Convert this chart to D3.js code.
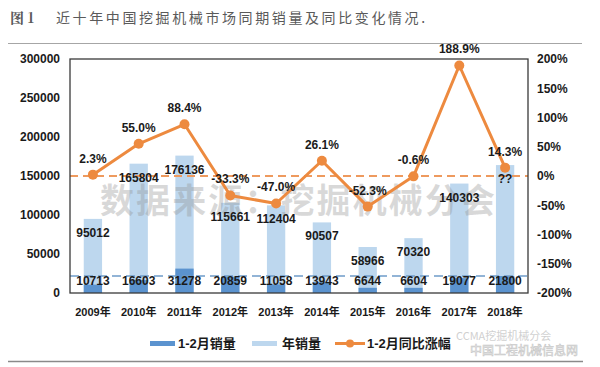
<!DOCTYPE html>
<html><head><meta charset="utf-8">
<script src="https://cdn.jsdelivr.net/npm/d3@7/dist/d3.min.js"></script>
<style>
body{margin:0;background:#fff;}
svg{display:block;}
</style></head>
<body><svg id="c" width="600" height="367"></svg>
<script>
const years = ["2009年","2010年","2011年","2012年","2013年","2014年","2015年","2016年","2017年","2018年"];
const annualSales = [95012,165804,176136,115661,112404,90507,58966,70320,140303,164000];
const annualLabels = ["95012","165804","176136","115661","112404","90507","58966","70320","140303","??"];
const janFebSales = [10713,16603,31278,20859,11058,13943,6644,6604,19077,21800];
const janFebGrowth = [2.3,55.0,88.4,-33.3,-47.0,26.1,-52.3,-0.6,188.9,14.3];
const leftTicks = [0,50000,100000,150000,200000,250000,300000];
const rightTicks = [-200,-150,-100,-50,0,50,100,150,200];
const refSales = 150000;
const refJanFeb = 21800;

const svg = d3.select("#c");
const L=70, R=528, T=59, B=293;
const font = "Arial, 'Liberation Sans', 'Noto Sans CJK SC', sans-serif";

const x = d3.scaleBand().domain(years).range([L,R]).paddingInner(0.6).paddingOuter(0.3);
const yL = d3.scaleLinear().domain([0,300000]).range([B,T]);
const yR = d3.scaleLinear().domain([-200,200]).range([B,T]);
const cx = d => x(d)+x.bandwidth()/2;

// title
const title = svg.append("text").attr("x",10).attr("y",23)
  .attr("font-family","'Noto Sans CJK SC', sans-serif").attr("font-size",14).attr("fill","#5a5a5a");
title.append("tspan").text("图 1").attr("font-weight","bold").attr("font-family","'Noto Serif CJK SC','Noto Sans CJK SC',serif");
title.append("tspan").attr("x",56).attr("letter-spacing",2.6).text("近十年中国挖掘机械市场同期销量及同比变化情况.");
svg.append("line").attr("x1",8).attr("x2",582).attr("y1",43.5).attr("y2",43.5).attr("stroke","#a6a6a6").attr("stroke-width",1);
svg.append("line").attr("x1",8).attr("x2",583).attr("y1",361.5).attr("y2",361.5).attr("stroke","#8a8a8a").attr("stroke-width",1.5);

// bars
svg.append("g").selectAll("rect").data(years).join("rect")
  .attr("x",d=>x(d)).attr("width",x.bandwidth())
  .attr("y",(d,i)=>yL(annualSales[i])).attr("height",(d,i)=>B-yL(annualSales[i]))
  .attr("fill","#bdd7ee");
svg.append("g").selectAll("rect").data(years).join("rect")
  .attr("x",d=>x(d)).attr("width",x.bandwidth())
  .attr("y",(d,i)=>yL(janFebSales[i])).attr("height",(d,i)=>B-yL(janFebSales[i]))
  .attr("fill","#5b93cf");

// reference lines
svg.append("line").attr("x1",L).attr("x2",R).attr("y1",yL(refSales)).attr("y2",yL(refSales))
  .attr("stroke","#ee9a5e").attr("stroke-width",2).attr("stroke-dasharray","8,5");
svg.append("line").attr("x1",L).attr("x2",R).attr("y1",yL(refJanFeb)).attr("y2",yL(refJanFeb))
  .attr("stroke","#6f9cc9").attr("stroke-width",1.5).attr("stroke-dasharray","9,5");

// watermark
svg.append("text").attr("x",100).attr("y",213).attr("textLength",395).attr("lengthAdjust","spacing")
  .attr("font-family","'Noto Sans CJK SC', sans-serif").attr("font-weight","bold").attr("font-size",34)
  .attr("fill","#8f8f8f").attr("fill-opacity",0.34).text("数据来源：挖掘机械分会");

// frame
svg.append("rect").attr("x",L).attr("y",T).attr("width",R-L).attr("height",B-T)
  .attr("fill","none").attr("stroke","#3a3a3a").attr("stroke-width",1.3);

// line
const line = d3.line().x((d,i)=>cx(years[i])).y(d=>yR(d));
svg.append("path").datum(janFebGrowth).attr("d",line).attr("fill","none")
  .attr("stroke","#ed8a3f").attr("stroke-width",3).attr("stroke-linejoin","round");
svg.append("g").selectAll("circle").data(janFebGrowth).join("circle")
  .attr("cx",(d,i)=>cx(years[i])).attr("cy",d=>yR(d)).attr("r",5).attr("fill","#ed8a3f");

// labels
const lab = svg.append("g").attr("font-family",font).attr("font-weight","bold").attr("font-size",12)
  .attr("fill","#1a1a1a").attr("text-anchor","middle").attr("dominant-baseline","central");
lab.selectAll("text.a").data(annualLabels).join("text").attr("class","a")
  .attr("x",(d,i)=>cx(years[i])).attr("y",(d,i)=>yL(annualSales[i])+14).text(d=>d);
lab.selectAll("text.j").data(janFebSales).join("text").attr("class","j")
  .attr("x",(d,i)=>cx(years[i])).attr("y",B-12).text(d=>d);
lab.selectAll("text.g").data(janFebGrowth).join("text").attr("class","g")
  .attr("x",(d,i)=>cx(years[i])).attr("y",d=>yR(d)-16).text(d=>d.toFixed(1)+"%");

// axes
const axL = svg.append("g").attr("transform",`translate(${L},0)`)
  .call(d3.axisLeft(yL).tickValues(leftTicks).tickSize(0).tickPadding(10).tickFormat(d3.format("d")));
const axR = svg.append("g").attr("transform",`translate(${R},0)`)
  .call(d3.axisRight(yR).tickValues(rightTicks).tickSize(0).tickPadding(9).tickFormat(d=>d+"%"));
const axB = svg.append("g").attr("transform",`translate(0,${B})`)
  .call(d3.axisBottom(x).tickSize(0).tickPadding(15));
[axL,axR,axB].forEach(a=>{
  a.select(".domain").remove();
  a.selectAll("text").attr("font-family",font).attr("font-weight","bold").attr("fill","#1a1a1a");
});
axL.selectAll("text").attr("font-size",12);
axR.selectAll("text").attr("font-size",12);
axB.selectAll("text").attr("font-size",11);

// legend
const lg = svg.append("g").attr("font-family",font).attr("font-weight","bold").attr("font-size",13).attr("fill","#1a1a1a");
lg.append("rect").attr("x",150).attr("y",341).attr("width",25).attr("height",5).attr("fill","#5b93cf");
lg.append("text").attr("x",178).attr("y",343.5).attr("dominant-baseline","central").text("1-2月销量");
lg.append("rect").attr("x",252).attr("y",341).attr("width",25).attr("height",5).attr("fill","#bdd7ee");
lg.append("text").attr("x",282).attr("y",343.5).attr("dominant-baseline","central").text("年销量");
lg.append("line").attr("x1",335).attr("x2",365).attr("y1",343.5).attr("y2",343.5).attr("stroke","#ed8a3f").attr("stroke-width",3);
lg.append("circle").attr("cx",350).attr("cy",343.5).attr("r",4).attr("fill","#ed8a3f");
lg.append("text").attr("x",367).attr("y",343.5).attr("dominant-baseline","central").text("1-2月同比涨幅");

// corner watermark text
svg.append("text").attr("x",456).attr("y",340).attr("font-family","'Noto Sans CJK SC',sans-serif")
  .attr("font-size",11).attr("fill","#c4c4c4").attr("fill-opacity",0.8).text("CCMA挖掘机械分会");
svg.append("text").attr("x",470).attr("y",355).attr("font-family","'Noto Sans CJK SC',sans-serif")
  .attr("font-size",12).attr("fill","#ffffff").attr("stroke","#c8c8c8").attr("stroke-width",0.6).text("中国工程机械信息网");
</script></body></html>
